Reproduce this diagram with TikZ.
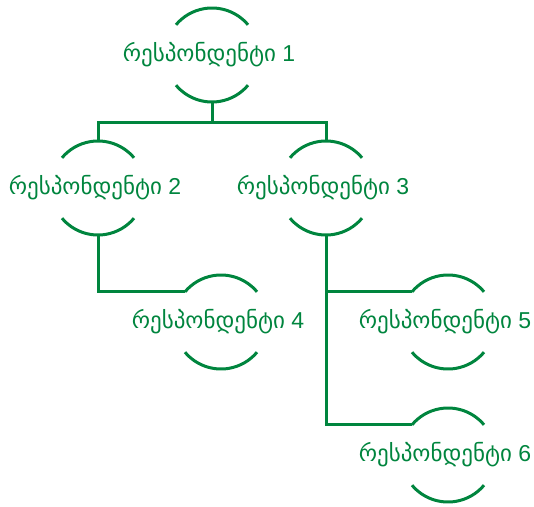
\documentclass[tikz,border=0pt]{standalone}
\usepackage{fontspec}
\setmainfont{Liberation Sans}
\newfontfamily\geofont[Script=Georgian]{DejaVu Sans}
\definecolor{respgreen}{RGB}{0,133,62}
\newcommand{\respname}[1]{{\geofont რესპონდენტი} #1}
\tikzset{
  resp/.style = {circle, minimum size=94pt, inner sep=0pt, outer sep=0pt},
  resptext/.style = {text=respgreen, font=\fontsize{23}{27}\selectfont, inner sep=0pt, xshift=-3pt},
  link/.style = {draw=respgreen, line width=3pt}
}
\begin{document}
\begin{tikzpicture}[x=1pt, y=1pt]
  \useasboundingbox (0,0) rectangle (534,-506);

  \node[resp, label={[resptext]center:\respname{1}}] (r1) at (212,-55) {};
  \node[resp, label={[resptext]center:\respname{2}}] (r2) at (98,-188) {};
  \node[resp, label={[resptext]center:\respname{3}}] (r3) at (326,-188) {};
  \node[resp, label={[resptext]center:\respname{4}}] (r4) at (221,-322) {};
  \node[resp, label={[resptext]center:\respname{5}}] (r5) at (448,-322) {};
  \node[resp, label={[resptext]center:\respname{6}}] (r6) at (448,-455) {};

  % arcs above and below each name
  \foreach \n in {r1, r2, r3, r4, r5, r6} {
    \draw[link] (\n.40) arc[start angle=40, end angle=140, radius=47pt];
    \draw[link] (\n.220) arc[start angle=220, end angle=320, radius=47pt];
  }

  \draw[link] (r1.south) -- ++(0,-20) coordinate (fork);
  \draw[link] (r2.north) |- (fork) -| (r3.north);
  \draw[link] (r2.south) |- (r4.140);
  \draw[link] (r3.south) |- (r6.140);
  \draw[link] (r3.south |- r5.140) -- (r5.140);
\end{tikzpicture}
\end{document}
